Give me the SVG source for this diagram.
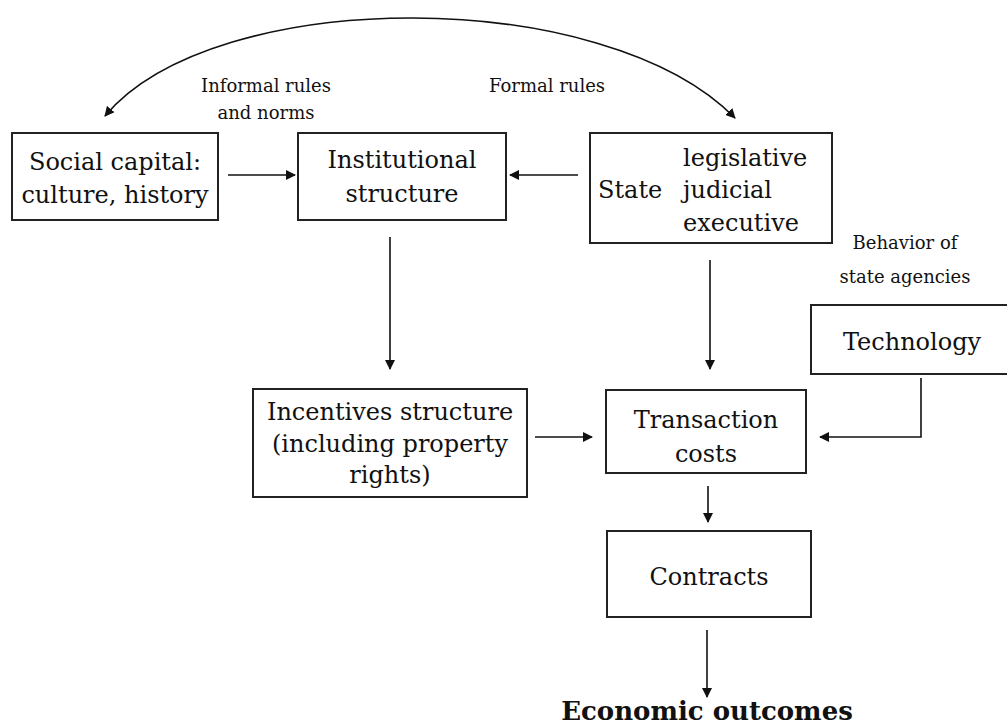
<svg xmlns="http://www.w3.org/2000/svg" width="1007" height="728" viewBox="0 0 1007 728">
<defs>
<marker id="ah" viewBox="0 0 10 10" refX="9" refY="5" markerWidth="10" markerHeight="10" markerUnits="userSpaceOnUse" orient="auto-start-reverse">
<path d="M0,0 L10,5 L0,10 Z" fill="#111"/>
</marker>
<style>
.box{fill:#fff;stroke:#222;stroke-width:2}
.t{font-family:"DejaVu Serif","Liberation Serif",serif;font-size:24px;fill:#111;text-anchor:middle}
.s{font-family:"DejaVu Serif","Liberation Serif",serif;font-size:18px;fill:#111;text-anchor:middle}
.c{fill:none;stroke:#111;stroke-width:1.6}
</style>
</defs>
<rect width="1007" height="728" fill="#fff"/>
<g id="connectors">
<path class="c" d="M105,116 C215,-15 605,-15 735,118" marker-start="url(#ah)" marker-end="url(#ah)"/>
<line class="c" x1="228" y1="175" x2="295" y2="175" marker-end="url(#ah)"/>
<line class="c" x1="578" y1="175" x2="510" y2="175" marker-end="url(#ah)"/>
<line class="c" x1="390" y1="237" x2="390" y2="369" marker-end="url(#ah)"/>
<line class="c" x1="710" y1="260" x2="710" y2="369" marker-end="url(#ah)"/>
<line class="c" x1="535" y1="437" x2="592" y2="437" marker-end="url(#ah)"/>
<polyline class="c" points="921,378 921,437 820,437" marker-end="url(#ah)"/>
<line class="c" x1="708" y1="486" x2="708" y2="522" marker-end="url(#ah)"/>
<line class="c" x1="707" y1="630" x2="707" y2="697" marker-end="url(#ah)"/>
</g>
<g id="label-informal"><text class="s" x="266" y="92">Informal rules</text><text class="s" x="266" y="119">and norms</text></g>
<g id="label-formal"><text class="s" x="547" y="92">Formal rules</text></g>
<g id="label-behavior"><text class="s" x="905" y="249">Behavior of</text><text class="s" x="905" y="283">state agencies</text></g>
<g id="social"><rect class="box" x="12" y="133" width="206" height="87"/><text class="t" x="115" y="170">Social capital:</text><text class="t" x="115" y="203">culture, history</text></g>
<g id="institutional"><rect class="box" x="298" y="133" width="208" height="87"/><text class="t" x="402" y="168">Institutional</text><text class="t" x="402" y="202">structure</text></g>
<g id="state"><rect class="box" x="590" y="133" width="242" height="110"/><text class="t" x="598" y="198" style="text-anchor:start">State</text><text class="t" x="683" y="166" style="text-anchor:start">legislative</text><text class="t" x="683" y="198" style="text-anchor:start">judicial</text><text class="t" x="683" y="231" style="text-anchor:start">executive</text></g>
<g id="technology"><rect class="box" x="811" y="305" width="200" height="69"/><text class="t" x="912" y="350">Technology</text></g>
<g id="incentives"><rect class="box" x="253" y="389" width="274" height="108"/><text class="t" x="390" y="420">Incentives structure</text><text class="t" x="390" y="452">(including property</text><text class="t" x="390" y="483">rights)</text></g>
<g id="transaction"><rect class="box" x="606" y="390" width="200" height="83"/><text class="t" x="706" y="428">Transaction</text><text class="t" x="706" y="462">costs</text></g>
<g id="contracts"><rect class="box" x="607" y="531" width="204" height="86"/><text class="t" x="709" y="585">Contracts</text></g>
<g id="economic"><text class="t" x="707" y="720" style="font-weight:bold;font-size:26px">Economic outcomes</text></g>
</svg>
